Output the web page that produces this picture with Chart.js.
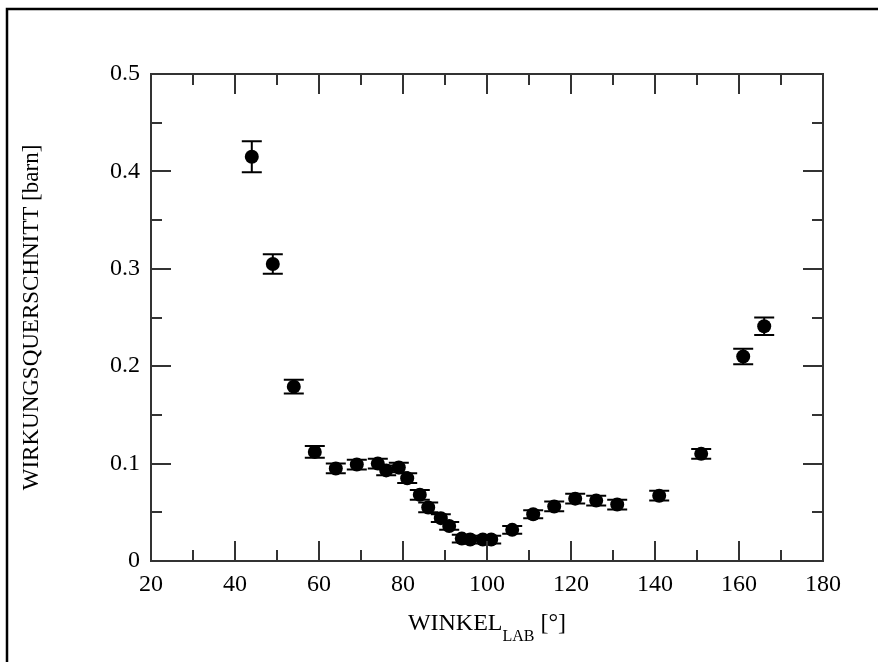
<!DOCTYPE html>
<html><head><meta charset="utf-8">
<script src="https://cdn.jsdelivr.net/npm/chart.js@4"></script>
<style>html,body{margin:0;padding:0;background:#fff}#wrap{width:878px;height:662px;position:relative}</style>
</head><body><div id="wrap"><canvas id="c" width="878" height="662"></canvas></div>
<script>
// ---- data ----
const angles = [44, 49, 54, 59, 64, 69, 74, 76, 79, 81, 84, 86, 89, 91, 94, 96, 99, 101, 106, 111, 116, 121, 126, 131, 141, 151, 161, 166];
const crossSections = [0.415, 0.305, 0.179, 0.112, 0.095, 0.099, 0.100, 0.093, 0.096, 0.085, 0.068, 0.055, 0.044, 0.036, 0.023, 0.022, 0.022, 0.022, 0.032, 0.048, 0.056, 0.064, 0.062, 0.058, 0.067, 0.110, 0.210, 0.241];
const errors = [0.016, 0.010, 0.007, 0.006, 0.005, 0.005, 0.005, 0.005, 0.005, 0.005, 0.005, 0.005, 0.004, 0.004, 0.004, 0.004, 0.004, 0.004, 0.004, 0.004, 0.005, 0.005, 0.005, 0.005, 0.005, 0.005, 0.008, 0.009];
const xMajorTicks = [20, 40, 60, 80, 100, 120, 140, 160, 180];
const xMinorTicks = [30, 50, 70, 90, 110, 130, 150, 170];
const yMajorTicks = [0, 0.1, 0.2, 0.3, 0.4, 0.5];
const yMinorTicks = [0.05, 0.15, 0.25, 0.35, 0.45];
const yTickLabels = ['0', '0.1', '0.2', '0.3', '0.4', '0.5'];
const xTickLabels = ['20', '40', '60', '80', '100', '120', '140', '160', '180'];
const yTitle = 'WIRKUNGSQUERSCHNITT [barn]';
const xTitleMain = 'WINKEL';
const xTitleSub = 'LAB';
const xTitleTail = ' [°]';

const SERIF = '"Liberation Serif", "DejaVu Serif", serif';
const points = angles.map((a, i) => ({x: a, y: crossSections[i]}));

const outerFrame = {
  id: 'outerFrame',
  beforeDraw(chart) {
    const ctx = chart.ctx;
    ctx.save();
    ctx.fillStyle = '#fff';
    ctx.fillRect(0, 0, chart.width, chart.height);
    ctx.strokeStyle = '#000';
    ctx.lineWidth = 2.5;
    ctx.beginPath();
    ctx.moveTo(7, chart.height + 5);
    ctx.lineTo(7, 9);
    ctx.lineTo(chart.width + 5, 9);
    ctx.stroke();
    ctx.restore();
  }
};

const axesBox = {
  id: 'axesBox',
  afterDatasetsDraw(chart) {
    const ctx = chart.ctx, xs = chart.scales.x, ys = chart.scales.y;
    const {left, right, top, bottom} = chart.chartArea;
    ctx.save();
    ctx.strokeStyle = '#333';
    ctx.lineWidth = 2;
    ctx.lineCap = 'square';
    ctx.strokeRect(left, top, right - left, bottom - top);
    const MAJ = 19, MIN = 10;
    ctx.beginPath();
    const xt = (v, L) => { const p = Math.round(xs.getPixelForValue(v));
      ctx.moveTo(p, bottom); ctx.lineTo(p, bottom - L); ctx.moveTo(p, top); ctx.lineTo(p, top + L); };
    const yt = (v, L) => { const p = Math.round(ys.getPixelForValue(v));
      ctx.moveTo(left, p); ctx.lineTo(left + L, p); ctx.moveTo(right, p); ctx.lineTo(right - L, p); };
    xMajorTicks.slice(1, -1).forEach(v => xt(v, MAJ));
    xMinorTicks.forEach(v => xt(v, MIN));
    yMajorTicks.slice(1, -1).forEach(v => yt(v, MAJ));
    yMinorTicks.forEach(v => yt(v, MIN));
    ctx.stroke();
    ctx.restore();
  }
};

const errorBars = {
  id: 'errorBars',
  beforeDatasetsDraw(chart) {
    const ctx = chart.ctx, xs = chart.scales.x, ys = chart.scales.y;
    ctx.save();
    ctx.strokeStyle = '#000';
    ctx.lineWidth = 2;
    ctx.beginPath();
    angles.forEach((a, i) => {
      const px = xs.getPixelForValue(a);
      const y1 = ys.getPixelForValue(crossSections[i] + errors[i]);
      const y2 = ys.getPixelForValue(crossSections[i] - errors[i]);
      ctx.moveTo(px, y1); ctx.lineTo(px, y2);
      ctx.moveTo(px - 10, y1); ctx.lineTo(px + 10, y1);
      ctx.moveTo(px - 10, y2); ctx.lineTo(px + 10, y2);
    });
    ctx.stroke();
    ctx.restore();
  }
};

const xTitle = {
  id: 'xTitle',
  afterDraw(chart) {
    const ctx = chart.ctx;
    const {left, right} = chart.chartArea;
    ctx.save();
    ctx.fillStyle = '#000';
    ctx.textBaseline = 'alphabetic';
    ctx.textAlign = 'left';
    const big = '24px ' + SERIF, small = '16px ' + SERIF;
    ctx.font = big; const w1 = ctx.measureText(xTitleMain).width; const w3 = ctx.measureText(xTitleTail).width;
    ctx.font = small; const w2 = ctx.measureText(xTitleSub).width;
    const total = w1 + w2 + w3;
    let x = (left + right) / 2 - total / 2;
    const base = 630;
    ctx.font = big; ctx.fillText(xTitleMain, x, base); x += w1;
    ctx.font = small; ctx.fillText(xTitleSub, x, base + 11); x += w2;
    ctx.font = big; ctx.fillText(xTitleTail, x, base);
    ctx.restore();
  }
};

new Chart(document.getElementById('c'), {
  type: 'scatter',
  data: {
    datasets: [{
      label: 'Wirkungsquerschnitt',
      data: points,
      backgroundColor: '#000',
      borderColor: '#000',
      borderWidth: 0,
      pointRadius: 7,
      pointHoverRadius: 7
    }]
  },
  options: {
    responsive: false,
    devicePixelRatio: 1,
    animation: false,
    layout: {padding: {left: 0, top: 74, right: 55, bottom: 0}},
    plugins: {legend: {display: false}, tooltip: {enabled: false}},
    scales: {
      x: {
        type: 'linear', min: 20, max: 180,
        afterBuildTicks: s => { s.ticks = xMajorTicks.map(v => ({value: v})); },
        afterFit: s => { s.height = 101; },
        grid: {display: false},
        border: {display: false},
        ticks: {
          color: '#000', padding: 1, maxRotation: 0, autoSkip: false,
          font: {family: SERIF, size: 24},
          callback: v => xTickLabels[xMajorTicks.indexOf(v)]
        }
      },
      y: {
        type: 'linear', min: 0, max: 0.5,
        afterBuildTicks: s => { s.ticks = yMajorTicks.map(v => ({value: v})); },
        afterFit: s => { s.width = 151; },
        grid: {display: false},
        border: {display: false},
        title: {display: true, text: yTitle, color: '#000', font: {family: SERIF, size: 23}, padding: {top: 18, bottom: 0}},
        ticks: {
          color: '#000', padding: 3, autoSkip: false,
          font: {family: SERIF, size: 24},
          callback: v => { const i = yMajorTicks.findIndex(t => Math.abs(t - v) < 1e-9); return i >= 0 ? yTickLabels[i] : ''; }
        }
      }
    }
  },
  plugins: [outerFrame, errorBars, axesBox, xTitle]
});
</script>
</body></html>
